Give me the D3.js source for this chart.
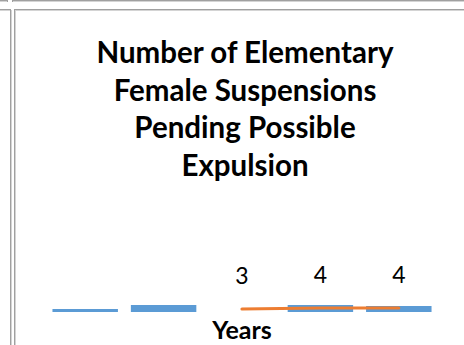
<!DOCTYPE html>
<html>
<head>
<meta charset="utf-8">
<script src="https://cdn.jsdelivr.net/npm/d3@7"></script>
<style>
  html, body { margin: 0; padding: 0; background: #fff; }
  svg { display: block; }
</style>
</head>
<body>
<svg id="chart" width="464" height="345"></svg>
<script>
// Chart data
const categories = ["Year 1", "Year 2", "Year 3", "Year 4", "Year 5"];
const barValues = [3, 7, 0, 7, 6];
const lineValues = [null, null, 3, 4, 4];
const titleLines = ["Number of Elementary", "Female Suspensions", "Pending Possible", "Expulsion"];
const axisTitle = "Years";

const svg = d3.select("#chart");
const W = 464, H = 345;

// Surrounding cell borders
const frame = svg.append("g").attr("fill", "none").attr("shape-rendering", "crispEdges");
const seg = (x1, y1, x2, y2, c) => frame.append("line")
  .attr("x1", x1).attr("y1", y1).attr("x2", x2).attr("y2", y2).attr("stroke", c);
const dark = "#a0a0a0", light = "#d4d4d4";
seg(0, 0.5, 8, 0.5, dark); seg(0, 1.5, 7, 1.5, light); seg(7.5, 0, 7.5, 2, dark);
seg(12, 0.5, W, 0.5, dark); seg(12, 1.5, W, 1.5, light); seg(12.5, 0, 12.5, 2, dark);
seg(0, 9.5, 11, 9.5, dark); seg(0, 10.5, 10, 10.5, light);
seg(10.5, 9, 10.5, H, dark); seg(11.5, 10, 11.5, H, light);
seg(14.5, 9, 14.5, H, dark); seg(15.5, 10, 15.5, H, light);
seg(14, 9.5, W, 9.5, dark); seg(15, 10.5, W, 10.5, light);

// Scales
const x = d3.scaleBand().domain(categories).range([46, 438])
  .paddingInner(0.165).paddingOuter(0.0825);
const y = d3.scaleLinear().domain([0, 12]).range([312, 300]);

// Title
const font = "Lato, 'Open Sans', 'Liberation Sans', sans-serif";
svg.append("g").selectAll("text").data(titleLines).join("text")
  .attr("x", 245)
  .attr("y", (d, i) => 63 + i * 37.6)
  .attr("text-anchor", "middle")
  .attr("font-family", font)
  .attr("font-weight", "bold")
  .attr("font-size", 29.5)
  .attr("fill", "#000")
  .text(d => d);

// Bars
svg.append("g").selectAll("rect").data(categories).join("rect")
  .attr("x", d => x(d))
  .attr("width", x.bandwidth())
  .attr("y", (d, i) => y(barValues[i]))
  .attr("height", (d, i) => y(0) - y(barValues[i]))
  .attr("fill", "#5B9BD5");

// Line series
const pts = categories.map((c, i) => ({ c, v: lineValues[i] }));
const line = d3.line()
  .defined(d => d.v != null)
  .x(d => x(d.c) + x.bandwidth() / 2)
  .y(d => y(d.v));
svg.append("path").datum(pts)
  .attr("d", line)
  .attr("fill", "none")
  .attr("stroke", "#ED7D31")
  .attr("stroke-width", 3.2)
  .attr("stroke-linecap", "round")
  .attr("stroke-linejoin", "round");

// Data labels for the line series
svg.append("g").selectAll("text").data(pts.filter(d => d.v != null)).join("text")
  .attr("x", d => x(d.c) + x.bandwidth() / 2)
  .attr("y", d => y(d.v) - 25)
  .attr("text-anchor", "middle")
  .attr("font-family", font)
  .attr("font-size", 23)
  .attr("fill", "#000")
  .text(d => d.v);

// Axis title
svg.append("text")
  .attr("x", 242)
  .attr("y", 339)
  .attr("text-anchor", "middle")
  .attr("font-family", font)
  .attr("font-weight", "bold")
  .attr("font-size", 25)
  .attr("fill", "#000")
  .text(axisTitle);
</script>
</body>
</html>
